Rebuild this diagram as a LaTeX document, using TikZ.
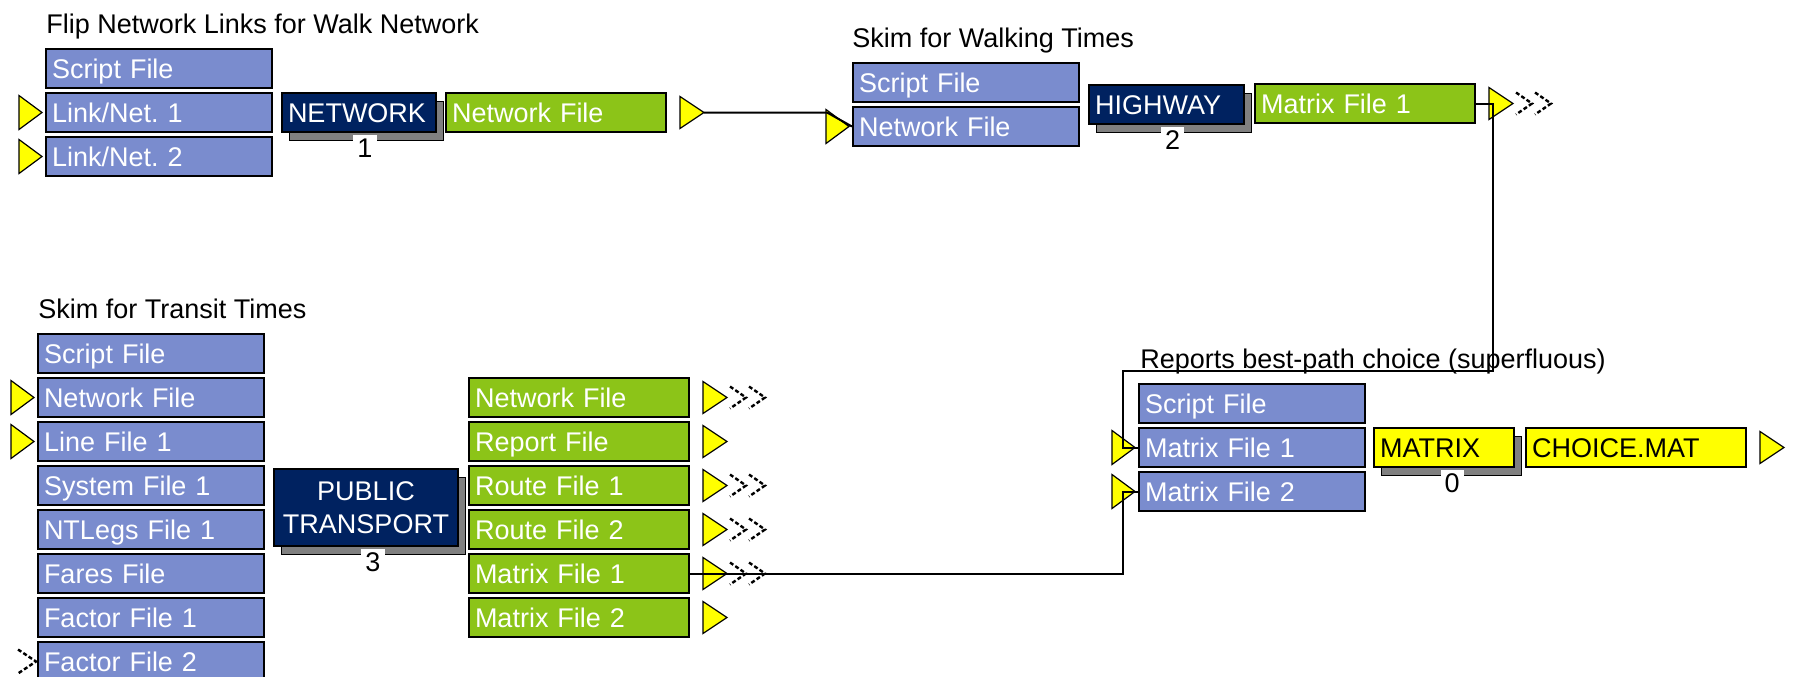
\documentclass[tikz,border=0pt]{standalone}
\usepackage{fontspec}
\setmainfont{Liberation Sans}
\usetikzlibrary{shadows,calc}
\definecolor{inblue}{RGB}{122,140,206}
\definecolor{outgreen}{RGB}{140,196,24}
\definecolor{procnavy}{RGB}{0,34,96}
\definecolor{shadowgray}{RGB}{128,128,128}
\definecolor{portyellow}{RGB}{255,255,0}
\frenchspacing
\begin{document}
\begin{tikzpicture}[x=0.5pt,y=-0.5pt,
  every node/.style={font=\fontsize{13.5}{16.5}\selectfont},
  title/.style={anchor=base west, inner sep=0pt, text=black},
  filebox/.style={draw=black, line width=1pt, anchor=north west, minimum height=19.5pt,
    inner xsep=3pt, inner ysep=0pt, text height=12.25pt, text depth=2.75pt, align=left, text=white},
  infile/.style={filebox, fill=inblue, text width=107pt},
  outfile/.style={filebox, fill=outgreen, text width=104pt},
  yfile/.style={filebox, fill=portyellow, text=black, text width=104pt},
  procbox/.style={filebox, fill=procnavy,
    general shadow={fill=shadowgray, draw=black, line width=0.5pt, shadow xshift=3.5pt, shadow yshift=-4pt}},
  digit/.style={anchor=north, fill=white, text=black, inner xsep=2pt, inner ysep=1pt, text height=10pt, text depth=0pt},
  conn/.style={draw=black, line width=1pt},
  chev/.style={draw=black, line width=1.2pt, dash pattern=on 2pt off 1.2pt},
  port/.style={fill=portyellow, draw=black, line width=0.6pt, line join=miter},
  pics/inport/.style={code={\filldraw[port] (-26,-17) -- (-3,0) -- (-26,17) -- cycle;}},
  pics/outport/.style={code={\filldraw[port] (13,-16) -- (37,0) -- (13,16) -- cycle;}},
  pics/chevs/.style={code={\draw[chev] (40,-11) -- (56,0) -- (40,11); \draw[chev] (59,-11) -- (75,0) -- (59,11);}},
  pics/inchev/.style={code={\draw[chev] (-19,-12) -- (-1,0) -- (-19,12);}}
]
\useasboundingbox (0,0) rectangle (1799,676);
\clip (0,0) rectangle (1799,676);

% ---------- Group 1 ----------
\node[title] (t1) at (46,33) {Flip Network Links for Walk Network};
\node[infile] (i1a) at (45,48) {Script File};
\node[infile] (i1b) at (45,92) {Link/Net. 1};
\node[infile] (i1c) at (45,136) {Link/Net. 2};
\node[procbox, text width=71pt] (p1) at (281,92) {NETWORK};
\node[digit] (d1) at ($(p1.south)+(6,2)$) {1};
\node[outfile] (o1) at (445,92) {Network File};
\pic at (i1b.west) {inport};
\pic at (i1c.west) {inport};
\pic at (o1.east) {outport};

% ---------- Group 2 ----------
\node[title] (t2) at (852,47) {Skim for Walking Times};
\node[infile] (i2a) at (852,62) {Script File};
\node[infile] (i2b) at (852,106) {Network File};
\node[procbox, text width=71.5pt] (p2) at (1088,84) {HIGHWAY};
\node[digit] (d2) at ($(p2.south)+(6,2)$) {2};
\node[outfile] (o2) at (1254,83) {Matrix File 1};
\pic at (i2b.west) {inport};
\pic at (o2.east) {outport};
\pic at (o2.east) {chevs};

% ---------- Group 3 ----------
\node[title] (t3) at (38,318) {Skim for Transit Times};
\node[infile] (i3a) at (37,333) {Script File};
\node[infile] (i3b) at (37,377) {Network File};
\node[infile] (i3c) at (37,421) {Line File 1};
\node[infile] (i3d) at (37,465) {System File 1};
\node[infile] (i3e) at (37,509) {NTLegs File 1};
\node[infile] (i3f) at (37,553) {Fares File};
\node[infile] (i3g) at (37,597) {Factor File 1};
\node[infile] (i3h) at (37,641) {Factor File 2};
\pic at (i3b.west) {inport};
\pic at (i3c.west) {inport};
\pic at (i3h.west) {inchev};
\node[procbox, text width=86pt, align=center, minimum height=38.5pt, text height=, text depth=] (p3) at (273,468) {PUBLIC\\TRANSPORT};
\node[digit] (d3) at ($(p3.south)+(7,2)$) {3};
\node[outfile] (o3a) at (468,377) {Network File};
\node[outfile] (o3b) at (468,421) {Report File};
\node[outfile] (o3c) at (468,465) {Route File 1};
\node[outfile] (o3d) at (468,509) {Route File 2};
\node[outfile] (o3e) at (468,553) {Matrix File 1};
\node[outfile] (o3f) at (468,597) {Matrix File 2};
\foreach \n in {o3a,o3b,o3c,o3d,o3e,o3f} {\pic at (\n.east) {outport};}
\foreach \n in {o3a,o3c,o3d,o3e} {\pic at (\n.east) {chevs};}

% ---------- Group 4 ----------
\node[title] (t4) at (1140,368) {Reports best-path choice (superfluous)};
\node[infile] (i4a) at (1138,383) {Script File};
\node[infile] (i4b) at (1138,427) {Matrix File 1};
\node[infile] (i4c) at (1138,471) {Matrix File 2};
\pic at (i4b.west) {inport};
\pic at (i4c.west) {inport};
\node[procbox, fill=portyellow, text=black, text width=64pt] (p4) at (1373,427) {MATRIX};
\node[digit] (d4) at ($(p4.south)+(8,2)$) {0};
\node[yfile] (o4) at (1525,427) {CHOICE.MAT};
\pic at (o4.east) {outport};

% ---------- Connectors ----------
\coordinate (c1) at ($(i2b.west)+(-25,0)$);
\draw[conn] (o1.east) ++(37,0) -- (c1 |- o1.east) -- (i2b.west);
\coordinate (bend1) at (1493,371);
\coordinate (bend2) at (1123,371);
\draw[conn] (o2.east) -| (bend1) -- (bend2) |- (i4b.west);
\coordinate (bend3) at (1123,0);
\draw[conn] (o3e.east) -- (bend3 |- o3e.east) |- (i4c.west);
\end{tikzpicture}
\end{document}
